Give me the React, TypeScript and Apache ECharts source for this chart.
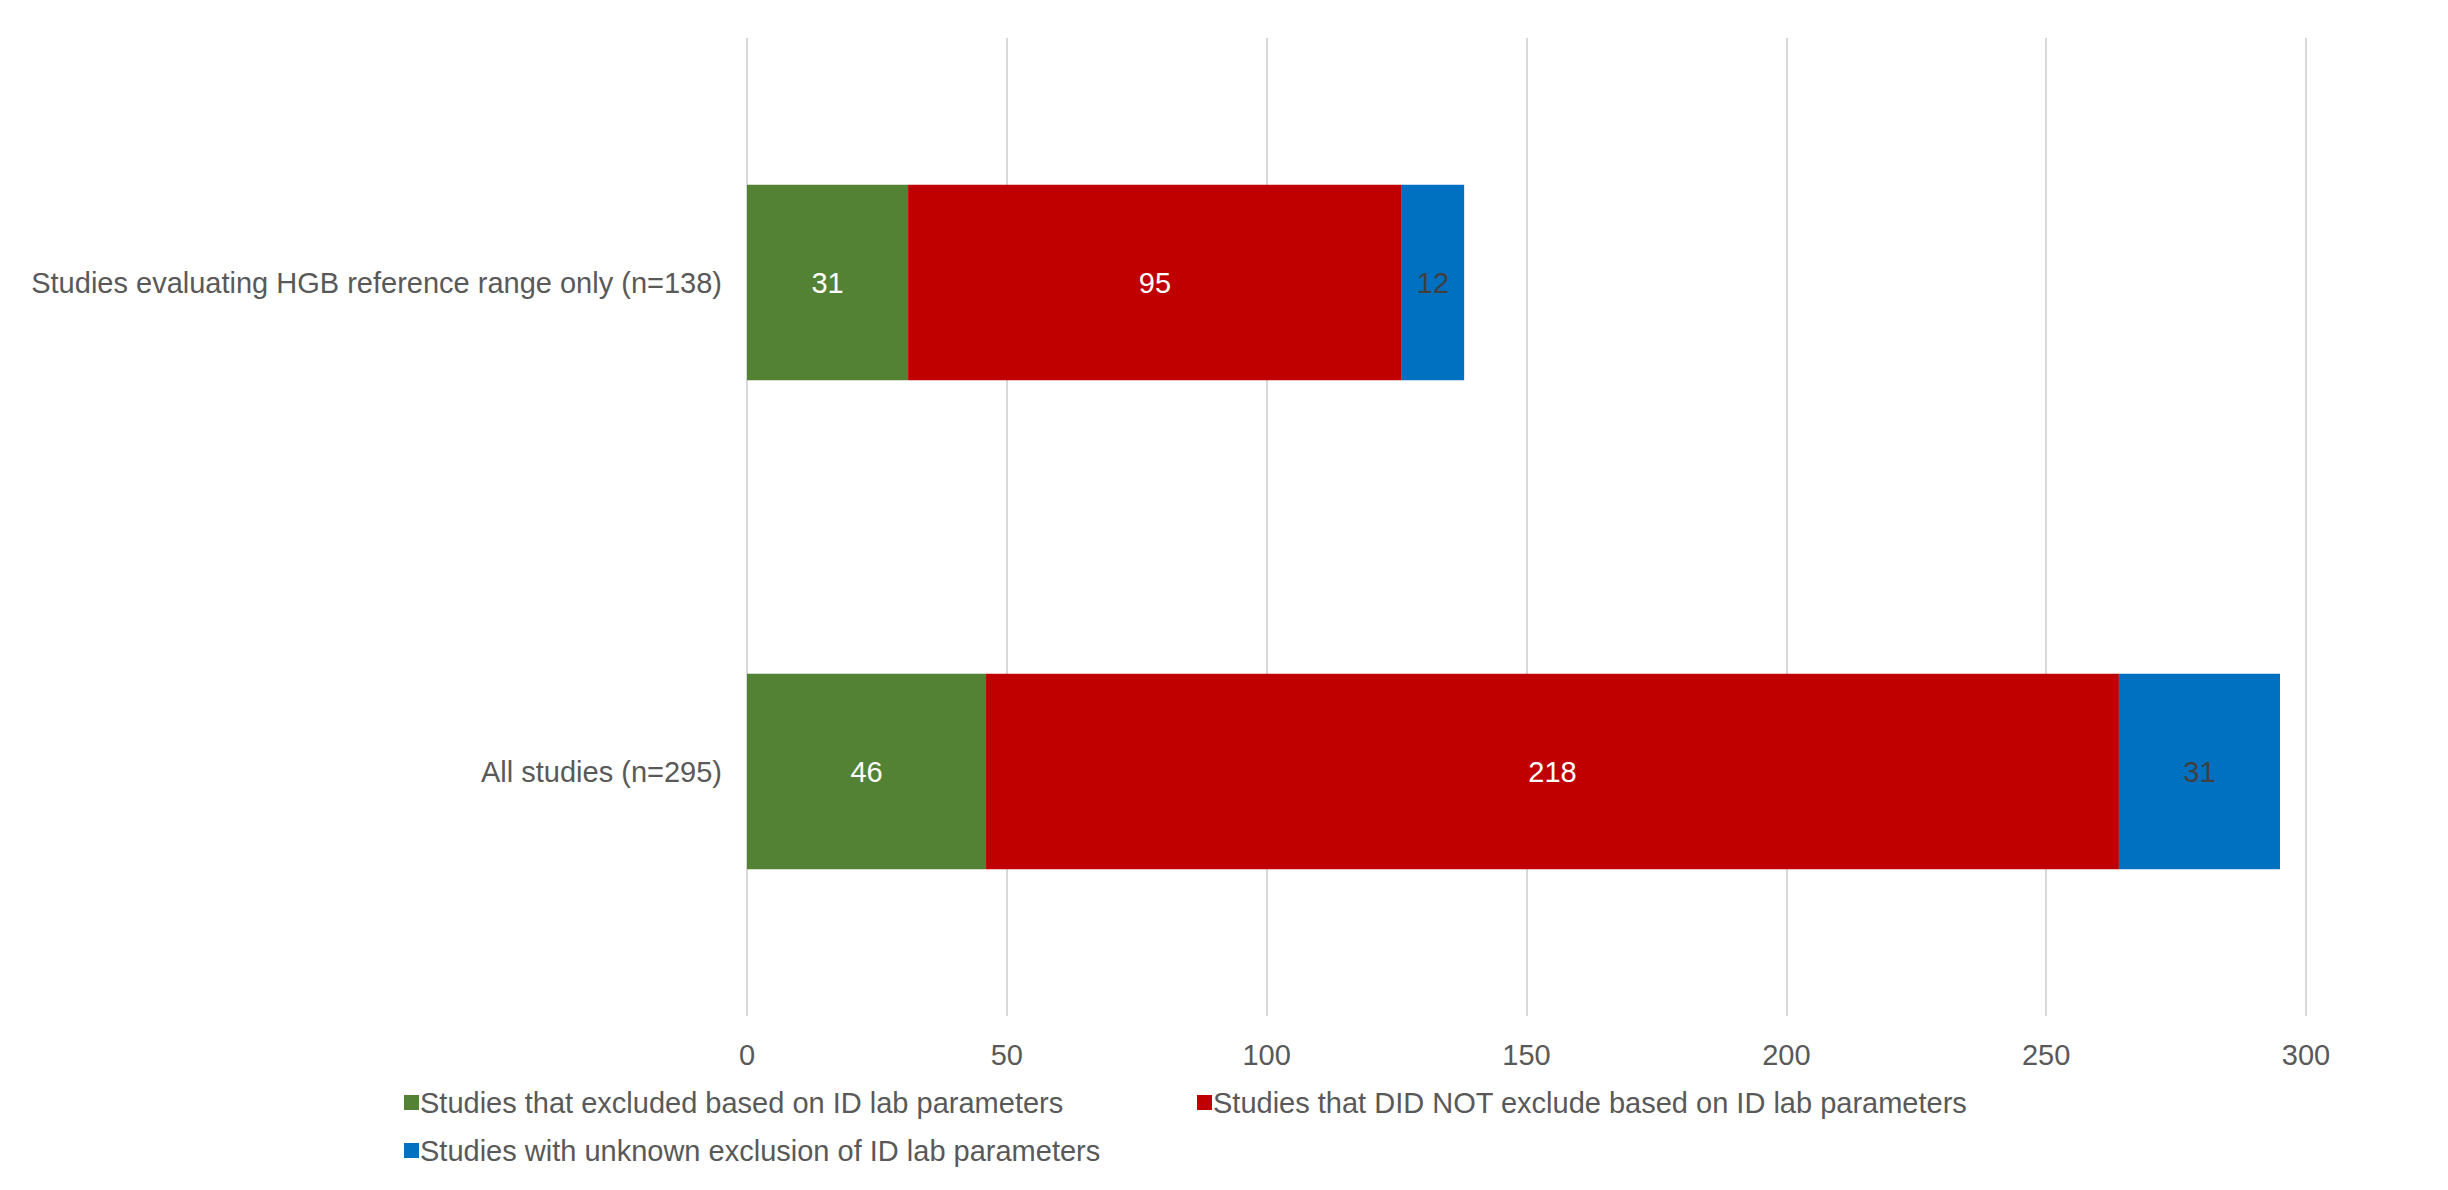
import React, { useEffect, useRef } from "react";
import * as echarts from "echarts";

const categories = [
  "Studies evaluating HGB reference range only (n=138)",
  "All studies (n=295)",
];
const seriesNames = [
  "Studies that excluded based on ID lab parameters",
  "Studies that DID NOT exclude based on ID lab parameters",
  "Studies with unknown exclusion of ID lab parameters",
];
const excluded = [31, 46];
const notExcluded = [95, 218];
const unknown = [12, 31];
const colors = ["#548235", "#C00000", "#0070C0"];
const labelColors = ["#ffffff", "#ffffff", "#404040"];

const FONT = "Liberation Sans, Arial, sans-serif";
const TEXT = "#595959";
const FS = 29;

export default function App() {
  const ref = useRef<HTMLDivElement>(null);
  useEffect(() => {
    if (!ref.current) return;
    const chart = echarts.init(ref.current, undefined, { renderer: "svg" });
    const values = [excluded, notExcluded, unknown];
    const legendPos = [
      { left: 391, top: 1075 },
      { left: 1184, top: 1075 },
      { left: 391, top: 1123 },
    ];
    chart.setOption({
      animation: false,
      backgroundColor: "#ffffff",
      textStyle: { fontFamily: FONT },
      grid: { left: 739, right: 134, top: 30, bottom: 166, containLabel: false },
      xAxis: {
        type: "value",
        min: 0,
        max: 300,
        interval: 50,
        axisLine: { show: false },
        axisTick: { show: false },
        axisLabel: { color: TEXT, fontSize: FS, margin: 24, fontFamily: FONT },
        splitLine: { lineStyle: { color: "#d9d9d9", width: 2 } },
      },
      yAxis: {
        type: "category",
        data: categories,
        inverse: true,
        axisLine: { show: false },
        axisTick: { show: false },
        axisLabel: { color: TEXT, fontSize: FS, margin: 25, fontFamily: FONT },
      },
      legend: seriesNames.map((n, i) => ({
        data: [n],
        left: legendPos[i].left,
        top: legendPos[i].top,
        itemWidth: 15,
        itemHeight: 15,
        itemGap: 0,
        icon: "rect",
        textStyle: { color: TEXT, fontSize: FS, fontFamily: FONT, padding: [0, 0, 0, -4] },
        selectedMode: false,
      })),
      series: seriesNames.map((n, i) => ({
        name: n,
        type: "bar",
        stack: "total",
        barWidth: "40%",
        data: values[i],
        itemStyle: { color: colors[i] },
        label: {
          show: true,
          position: "inside",
          color: labelColors[i],
          fontSize: FS,
          fontFamily: FONT,
        },
      })),
    });
    return () => chart.dispose();
  }, []);
  return <div ref={ref} style={{ width: 2432, height: 1174 }} />;
}
